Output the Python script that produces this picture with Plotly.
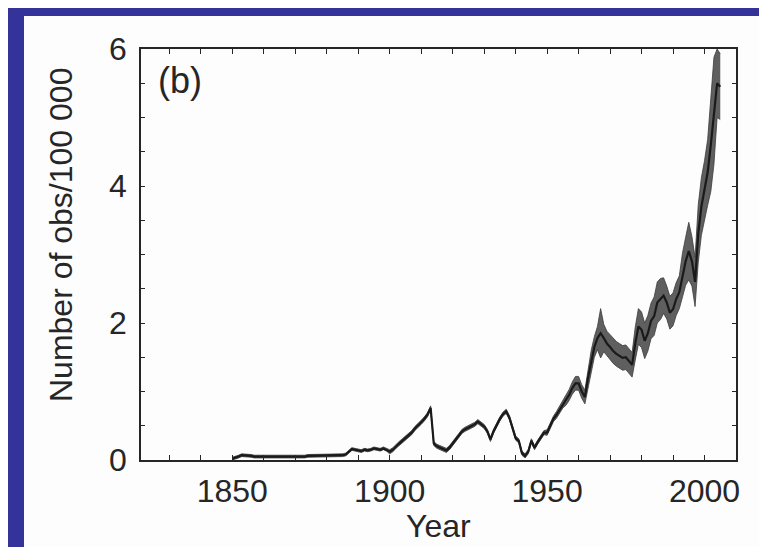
import plotly.graph_objects as go

# ---------------- data ----------------
years = list(range(1850, 2006))

obs_mid = [
    # 1850-1859
    0.02, 0.03, 0.05, 0.07, 0.07, 0.07, 0.06, 0.05, 0.05, 0.05,
    # 1860-1869
    0.05, 0.04, 0.04, 0.05, 0.05, 0.04, 0.05, 0.05, 0.05, 0.05,
    # 1870-1879
    0.05, 0.05, 0.05, 0.05, 0.06, 0.06, 0.06, 0.06, 0.06, 0.07,
    # 1880-1889
    0.07, 0.07, 0.07, 0.07, 0.07, 0.07, 0.08, 0.12, 0.16, 0.15,
    # 1890-1899
    0.14, 0.13, 0.15, 0.14, 0.15, 0.17, 0.16, 0.15, 0.17, 0.15,
    # 1900-1909
    0.12, 0.15, 0.20, 0.24, 0.28, 0.32, 0.36, 0.40, 0.46, 0.50,
    # 1910-1919
    0.55, 0.60, 0.66, 0.76, 0.24, 0.20, 0.18, 0.15, 0.14, 0.18,
    # 1920-1929
    0.24, 0.30, 0.36, 0.42, 0.45, 0.47, 0.49, 0.52, 0.56, 0.53,
    # 1930-1939
    0.49, 0.42, 0.30, 0.42, 0.52, 0.60, 0.67, 0.71, 0.62, 0.45,
    # 1940-1949
    0.32, 0.28, 0.10, 0.06, 0.12, 0.28, 0.18, 0.26, 0.34, 0.40,
    # 1950-1959
    0.40, 0.50, 0.60, 0.66, 0.74, 0.82, 0.88, 0.95, 1.05, 1.12,
    # 1960-1969
    1.12, 1.00, 0.92, 1.20, 1.45, 1.65, 1.78, 1.85, 1.78, 1.70,
    # 1970-1979
    1.65, 1.59, 1.55, 1.52, 1.49, 1.50, 1.45, 1.39, 1.70, 1.95,
    # 1980-1989
    1.90, 1.74, 1.85, 2.03, 2.10, 2.30, 2.35, 2.40, 2.30, 2.15,
    # 1990-1999
    2.20, 2.35, 2.45, 2.70, 2.90, 3.05, 2.90, 2.60, 3.30, 3.70,
    # 2000-2005
    3.95, 4.20, 4.60, 5.10, 5.50, 5.45,
]

obs_spread = [
    # 1850-1899
    0.02, 0.02, 0.02, 0.02, 0.02, 0.02, 0.02, 0.02, 0.02, 0.02,
    0.02, 0.02, 0.02, 0.02, 0.02, 0.02, 0.02, 0.02, 0.02, 0.02,
    0.02, 0.02, 0.02, 0.02, 0.02, 0.02, 0.02, 0.02, 0.02, 0.02,
    0.02, 0.02, 0.02, 0.02, 0.02, 0.02, 0.02, 0.02, 0.02, 0.02,
    0.02, 0.02, 0.02, 0.02, 0.02, 0.02, 0.02, 0.02, 0.02, 0.02,
    # 1900-1949
    0.03, 0.03, 0.03, 0.03, 0.03, 0.03, 0.03, 0.03, 0.03, 0.03,
    0.03, 0.03, 0.03, 0.03, 0.03, 0.03, 0.03, 0.03, 0.03, 0.03,
    0.03, 0.03, 0.03, 0.03, 0.03, 0.03, 0.03, 0.03, 0.03, 0.03,
    0.03, 0.03, 0.03, 0.03, 0.03, 0.03, 0.03, 0.03, 0.03, 0.03,
    0.03, 0.03, 0.03, 0.03, 0.03, 0.03, 0.03, 0.03, 0.03, 0.03,
    # 1950-1959
    0.04, 0.04, 0.04, 0.05, 0.05, 0.06, 0.08, 0.08, 0.09, 0.10,
    # 1960-1969
    0.10, 0.10, 0.10, 0.14, 0.15, 0.15, 0.17, 0.36, 0.20, 0.18,
    # 1970-1979
    0.18, 0.18, 0.18, 0.18, 0.18, 0.18, 0.18, 0.18, 0.24, 0.26,
    # 1980-1989
    0.26, 0.26, 0.26, 0.26, 0.28, 0.30, 0.30, 0.26, 0.24, 0.24,
    # 1990-1999
    0.24, 0.24, 0.24, 0.32, 0.35, 0.42, 0.36, 0.36, 0.42, 0.42,
    # 2000-2005
    0.42, 0.48, 0.68, 0.78, 0.50, 0.48,
]

x_tick_vals = list(range(1820, 2011, 10))
x_tick_text = ["1850" if v == 1850 else "1900" if v == 1900 else
               "1950" if v == 1950 else "2000" if v == 2000 else ""
               for v in x_tick_vals]
y_tick_vals = [i * 0.5 for i in range(13)]
y_tick_text = ["0", "", "", "", "2", "", "", "", "4", "", "", "", "6"]

panel_label = "(b)"
x_title = "Year"
y_title = "Number of obs/100 000"

# ---------------- figure ----------------
obs_low = [m - s for m, s in zip(obs_mid, obs_spread)]
obs_high = [m + s for m, s in zip(obs_mid, obs_spread)]

ink = "#262626"
FONT = "Liberation Sans, Arial, Helvetica, sans-serif"

fig = go.Figure()
fig.add_trace(go.Scatter(x=years, y=obs_low, mode="lines",
                         line=dict(color="rgba(60,60,60,0.8)", width=1),
                         hoverinfo="skip", showlegend=False))
fig.add_trace(go.Scatter(x=years, y=obs_high, mode="lines", fill="tonexty",
                         fillcolor="rgba(55,55,55,0.8)",
                         line=dict(color="rgba(60,60,60,0.8)", width=1),
                         hoverinfo="skip", showlegend=False))
fig.add_trace(go.Scatter(x=years, y=obs_mid, mode="lines",
                         line=dict(color="#1a1a1a", width=2.2),
                         showlegend=False))

W, H = 767, 547
L, R, T, B = 133, 728, 41, 452
pw, ph = R - L, B - T


def px(xp):
    return (xp - L) / pw


def py(yp):
    return (B - yp) / ph


fig.update_layout(
    width=W, height=H,
    margin=dict(l=L, r=W - R, t=T, b=H - B),
    paper_bgcolor="#333399",
    plot_bgcolor="#fdfdfd",
    font=dict(family=FONT, size=32, color=ink),
    shapes=[dict(type="rect", xref="paper", yref="paper",
                 x0=px(16), x1=px(759), y0=py(H + 2), y1=py(8),
                 fillcolor="#fdfdfd", line=dict(width=0), layer="below")],
    annotations=[
        dict(text=panel_label, xref="paper", yref="paper",
             x=px(148), y=py(72), xanchor="left", yanchor="middle",
             showarrow=False, font=dict(size=36, color=ink, family=FONT)),
        dict(text=y_title, xref="paper", yref="paper",
             x=px(53), y=py(227), xanchor="center", yanchor="middle",
             textangle=-90, showarrow=False,
             font=dict(size=32, color=ink, family=FONT)),
        dict(text=x_title, xref="paper", yref="paper",
             x=px(430), y=py(518), xanchor="center", yanchor="middle",
             showarrow=False, font=dict(size=32, color=ink, family=FONT)),
    ],
)

fig.update_xaxes(range=[1821, 2010], tickmode="array",
                 tickvals=x_tick_vals, ticktext=x_tick_text,
                 ticks="inside", ticklen=5, tickwidth=1.2, tickcolor=ink,
                 showline=True, linecolor=ink, linewidth=1.5, mirror="ticks",
                 showgrid=False, zeroline=False, ticklabelstandoff=2)
fig.update_yaxes(range=[0, 6], tickmode="array",
                 tickvals=y_tick_vals, ticktext=y_tick_text,
                 ticks="inside", ticklen=4, tickwidth=1.2, tickcolor=ink,
                 showline=True, linecolor=ink, linewidth=1.5, mirror="ticks",
                 showgrid=False, zeroline=False, ticklabelstandoff=6)

fig.write_html("out.html")
